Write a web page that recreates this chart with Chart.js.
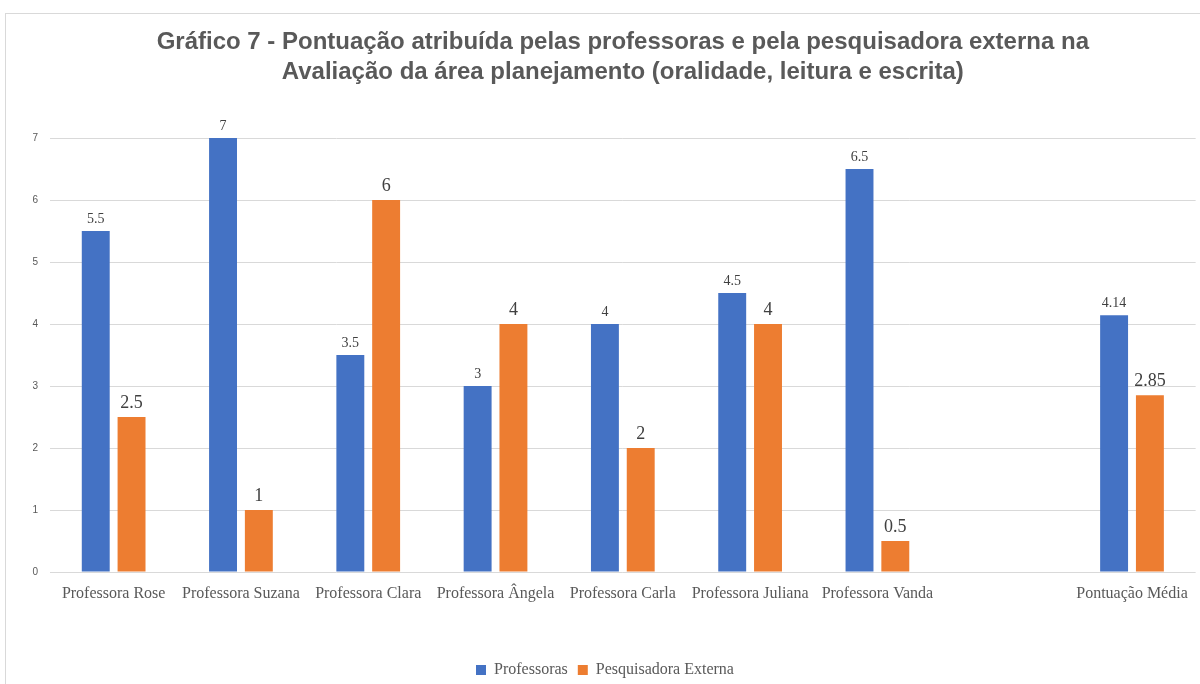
<!DOCTYPE html>
<html>
<head>
<meta charset="utf-8">
<script src="https://cdn.jsdelivr.net/npm/chart.js@4"></script>
<style>
  body { margin: 0; overflow: hidden; background: #fff; }
  #wrap { position: relative; width: 1200px; height: 684px; }
  #frame { position: absolute; left: 5px; top: 13px; width: 1300px; height: 800px; border: 1px solid #d9d9d9; }
  canvas { position: absolute; left: 0; top: 0; }
</style>
</head>
<body>
<div id="wrap">
  <div id="frame"></div>
  <canvas id="grafico" width="1200" height="684"></canvas>
</div>
<script>
// Dados do gráfico
const categorias = ['Professora Rose', 'Professora Suzana', 'Professora Clara', 'Professora Ângela', 'Professora Carla', 'Professora Juliana', 'Professora Vanda', '', 'Pontuação Média'];
const professoras = [5.5, 7, 3.5, 3, 4, 4.5, 6.5, null, 4.14];
const pesquisadora = [2.5, 1, 6, 4, 2, 4, 0.5, null, 2.85];
const yTicks = [0, 1, 2, 3, 4, 5, 6, 7];

// rótulos de valor acima das barras
const valueLabels = {
    id: 'valueLabels',
    afterDatasetsDraw(chart) {
        const ctx = chart.ctx;
        const sizes = [14, 18];
        chart.data.datasets.forEach(function(ds, i) {
            const meta = chart.getDatasetMeta(i);
            meta.data.forEach(function(bar, j) {
                const v = ds.data[j];
                if (v === null) return;
                ctx.save();
                ctx.font = sizes[i] + 'px "Liberation Serif", "Times New Roman", serif';
                ctx.fillStyle = '#404040';
                ctx.textAlign = 'center';
                ctx.textBaseline = 'bottom';
                ctx.fillText(String(v), bar.x, bar.y - 5);
                ctx.restore();
            });
        });
    }
};

const ctx = document.getElementById('grafico').getContext('2d');
const grafico = new Chart(ctx, {
    type: 'bar',
    data: {
        labels: categorias,
        datasets: [{
            label: 'Professoras',
            data: professoras,
            backgroundColor: '#4472C4',
            categoryPercentage: 0.5625,
            barPercentage: 0.78
        }, {
            label: 'Pesquisadora Externa',
            data: pesquisadora,
            backgroundColor: '#ED7D31',
            categoryPercentage: 0.5625,
            barPercentage: 0.78
        }]
    },
    options: {
        responsive: false,
        animation: false,
        layout: { padding: { left: 10, right: 0, top: 0, bottom: -4 } },
        plugins: {
            title: {
                display: true,
                fullSize: false,
                text: ['Gráfico 7 - Pontuação atribuída pelas professoras e pela pesquisadora externa na', 'Avaliação da área planejamento (oralidade, leitura e escrita)'],
                color: '#595959',
                font: { family: '"Liberation Sans", Arial, sans-serif', size: 24, weight: 'bold', lineHeight: 1.25 },
                padding: { top: 27, bottom: 51 }
            },
            legend: {
                position: 'bottom',
                labels: {
                    color: '#595959',
                    font: { family: '"Liberation Serif", "Times New Roman", serif', size: 16 },
                    boxWidth: 10,
                    boxHeight: 10,
                    padding: 10
                }
            },
            tooltip: { enabled: false }
        },
        scales: {
            x: {
                grid: { display: false, drawTicks: false },
                border: { display: false },
                ticks: {
                    color: '#595959',
                    font: { family: '"Liberation Serif", "Times New Roman", serif', size: 16 },
                    maxRotation: 0,
                    autoSkip: false,
                    padding: 12
                },
                afterFit: function(scale) { scale.height = 80; }
            },
            y: {
                min: 0,
                max: 7,
                afterBuildTicks: function(scale) { scale.ticks = yTicks.map(v => ({ value: v })); },
                grid: { color: '#d9d9d9', lineWidth: 1, drawTicks: false },
                border: { display: false },
                ticks: {
                    color: '#595959',
                    font: { family: '"Liberation Sans", Arial, sans-serif', size: 10 },
                    padding: 12
                },
                afterFit: function(scale) { scale.width = 40; }
            }
        }
    },
    plugins: [valueLabels]
});
</script>
</body>
</html>
